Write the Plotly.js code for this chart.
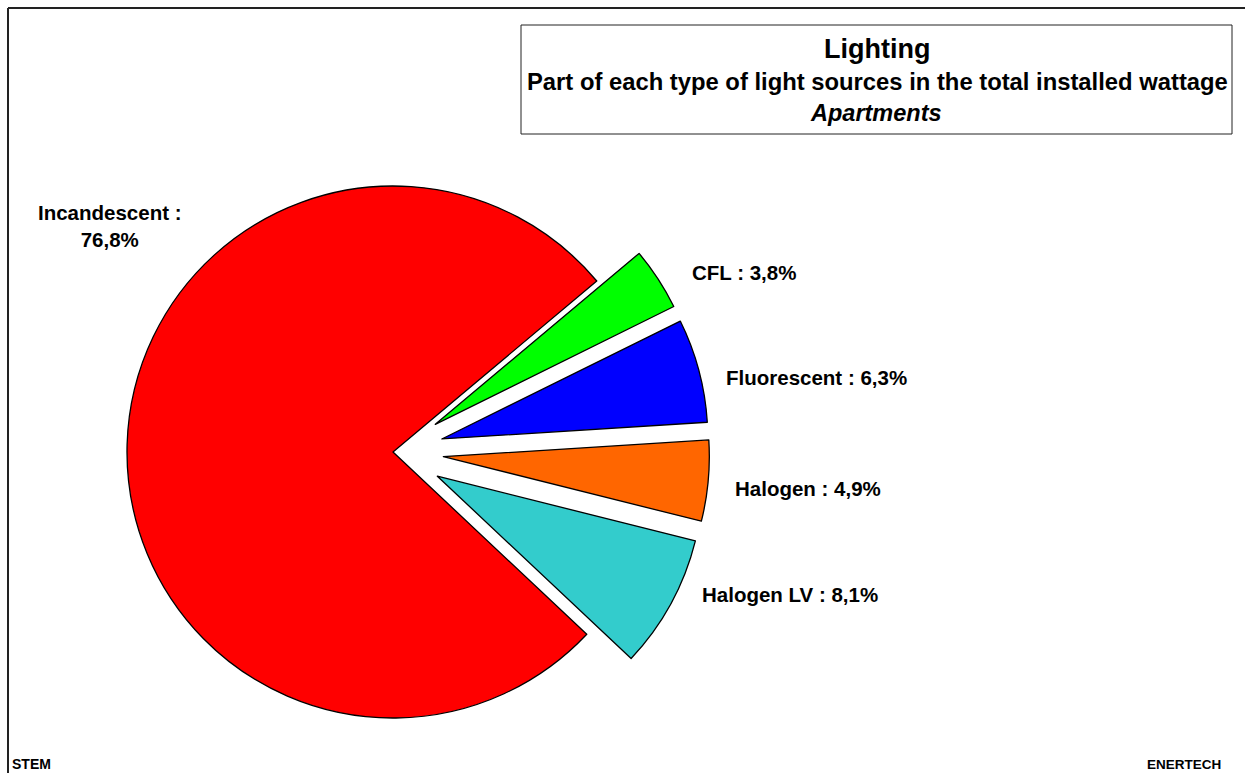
<!DOCTYPE html>
<html>
<head>
<meta charset="utf-8">
<script src="https://cdn.plot.ly/plotly-3.0.1.min.js"></script>
<style>html,body{margin:0;padding:0;background:#fff;}#chart{width:1245px;height:773px;}</style>
</head>
<body>
<div id="chart"></div>
<script>
// Data
const categories = ["CFL", "Fluorescent", "Halogen", "Halogen LV", "Incandescent"];
const shares = [3.8, 6.3, 4.9, 8.1, 76.8];
const sliceColors = ["#00FF00", "#0000FF", "#FF6600", "#33CCCC", "#FF0000"];
const explode = [0.19, 0.19, 0.19, 0.19, 0];

const titleLines = ["Lighting", "Part of each type of light sources in the total installed wattage", "Apartments"];
const footLeft = "STEM";
const footRight = "ENERTECH";

// Layout helpers (pixel -> paper)
const W = 1245, H = 773;
const px = x => x / W;
const py = y => 1 - y / H;

const FONT = "Liberation Sans, Arial, Helvetica, sans-serif";

function fmt(v) { return v.toFixed(1).replace('.', ','); }

// label placement (pixel centers)
const labelPos = [[744, 272], [816, 377], [808, 488], [790, 594], [110, 226]];
const labelBreak = [false, false, false, false, true];

const annotations = categories.map((c, i) => ({
  xref: 'paper', yref: 'paper',
  x: px(labelPos[i][0]), y: py(labelPos[i][1]),
  xanchor: 'center', yanchor: 'middle',
  text: c + ' :' + (labelBreak[i] ? '<br>' : ' ') + fmt(shares[i]) + '%',
  showarrow: false,
  align: 'center',
  font: {family: FONT, size: 20.5, color: '#000', weight: 'bold'}
}));

annotations.push(
  {xref:'paper', yref:'paper', x: px(877), y: py(49), xanchor:'center', yanchor:'middle', showarrow:false,
   text: '<b>' + titleLines[0] + '</b>', font:{family:FONT, size:27, color:'#000'}},
  {xref:'paper', yref:'paper', x: px(877.5), y: py(82), xanchor:'center', yanchor:'middle', showarrow:false,
   text: '<b>' + titleLines[1] + '</b>', font:{family:FONT, size:23.8, color:'#000'}},
  {xref:'paper', yref:'paper', x: px(876), y: py(113), xanchor:'center', yanchor:'middle', showarrow:false,
   text: '<b><i>' + titleLines[2] + '</i></b>', font:{family:FONT, size:23.5, color:'#000'}},
  {xref:'paper', yref:'paper', x: px(10), y: py(764), xanchor:'left', yanchor:'middle', showarrow:false,
   text: '<b>' + footLeft + '</b>', font:{family:FONT, size:14, color:'#000'}},
  {xref:'paper', yref:'paper', x: px(1223), y: py(764), xanchor:'right', yanchor:'middle', showarrow:false,
   text: '<b>' + footRight + '</b>', font:{family:FONT, size:13.5, color:'#000'}}
);

const r = 266, cx = 393, cy = 452;
const half = r * (1 + Math.max(...explode));

const trace = {
  type: 'pie',
  labels: categories,
  values: shares,
  sort: false,
  direction: 'clockwise',
  rotation: 50,
  pull: explode,
  textinfo: 'none',
  hoverinfo: 'label+percent',
  marker: {colors: sliceColors, line: {color: '#000', width: 1.3}},
  domain: {x: [px(cx - half), px(cx + half)], y: [py(cy + half), py(cy - half)]},
  showlegend: false
};

const layout = {
  width: W, height: H,
  margin: {l: 0, r: 0, t: 0, b: 0},
  paper_bgcolor: '#fff',
  showlegend: false,
  annotations: annotations,
  shapes: [
    {type:'line', xref:'paper', yref:'paper', x0: px(8), x1: 1.01, y0: py(8), y1: py(8), line:{color:'#222', width:2}},
    {type:'line', xref:'paper', yref:'paper', x0: px(8), x1: px(8), y0: py(8), y1: -0.01, line:{color:'#222', width:2}},
    {type:'rect', xref:'paper', yref:'paper', x0: px(521), x1: px(1232), y0: py(134), y1: py(25), line:{color:'#222', width:1}, fillcolor:'rgba(0,0,0,0)'}
  ]
};

Plotly.newPlot('chart', [trace], layout, {displayModeBar: false, staticPlot: true});
</script>
</body>
</html>
